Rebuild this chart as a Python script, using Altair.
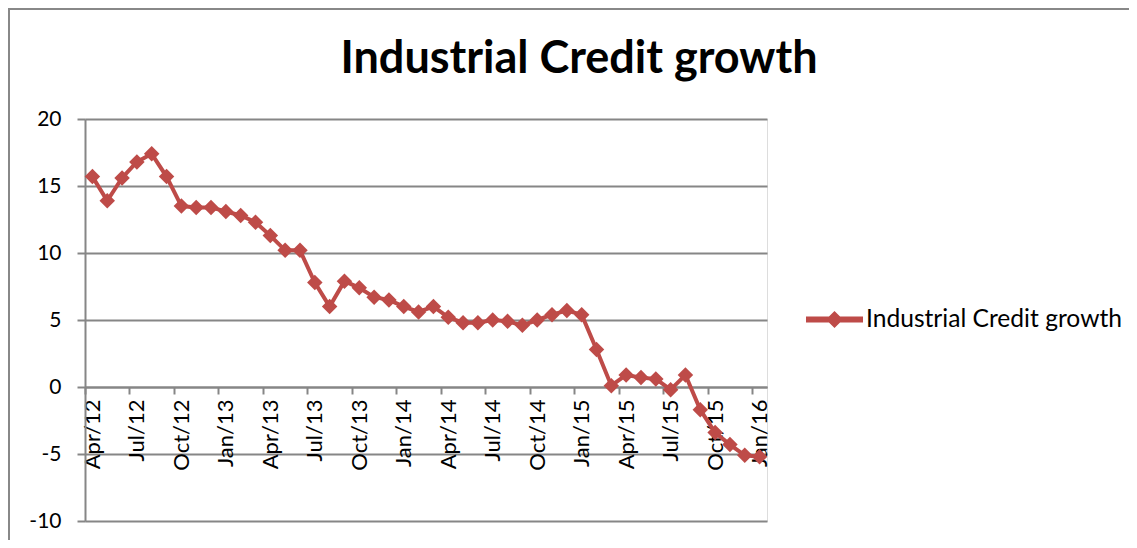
import altair as alt
import pandas as pd

chart_title = "Industrial Credit growth"
series_name = "Industrial Credit growth"

# monthly categories Apr/12 .. Jan/16 (46 months)
months = [
    "Apr/12", "May/12", "Jun/12", "Jul/12", "Aug/12", "Sep/12", "Oct/12", "Nov/12", "Dec/12",
    "Jan/13", "Feb/13", "Mar/13", "Apr/13", "May/13", "Jun/13", "Jul/13", "Aug/13", "Sep/13",
    "Oct/13", "Nov/13", "Dec/13", "Jan/14", "Feb/14", "Mar/14", "Apr/14", "May/14", "Jun/14",
    "Jul/14", "Aug/14", "Sep/14", "Oct/14", "Nov/14", "Dec/14", "Jan/15", "Feb/15", "Mar/15",
    "Apr/15", "May/15", "Jun/15", "Jul/15", "Aug/15", "Sep/15", "Oct/15", "Nov/15", "Dec/15",
    "Jan/16",
]

growth = [
    15.7, 13.9, 15.6, 16.8, 17.4, 15.7, 13.5, 13.4, 13.4, 13.1,
    12.8, 12.3, 11.3, 10.2, 10.2, 7.8, 6.0, 7.9, 7.4, 6.7,
    6.5, 6.0, 5.6, 6.0, 5.2, 4.8, 4.8, 5.0, 4.9, 4.6,
    5.0, 5.4, 5.7, 5.4, 2.8, 0.1, 0.9, 0.7, 0.6, -0.2,
    0.9, -1.7, -3.4, -4.3, -5.1, -5.2,
]

tick_labels = ["Apr/12", "Jul/12", "Oct/12", "Jan/13", "Apr/13", "Jul/13", "Oct/13", "Jan/14",
               "Apr/14", "Jul/14", "Oct/14", "Jan/15", "Apr/15", "Jul/15", "Oct/15", "Jan/16"]
y_ticks = [-10, -5, 0, 5, 10, 15, 20]

df = pd.DataFrame({
    "idx": list(range(len(months))),
    "month": months,
    "growth": growth,
    "series": [series_name] * len(months),
})

RED = "#BE4B48"
GREY = "#868686"
FONT = "Lato"

W, H = 682, 402
half_band = W / len(months) / 2

label_expr = "[" + ",".join(f"'{t}'" for t in tick_labels) + "][round(datum.value / 3)]"

legend_path = ("M-1,-0.105L-0.195,-0.105L0,-0.3L0.195,-0.105L1,-0.105L1,0.105"
               "L0.195,0.105L0,0.3L-0.195,0.105L-1,0.105Z")

x_enc = alt.X(
    "idx:Q",
    scale=alt.Scale(domain=[-0.5, len(months) - 0.5], nice=False, zero=False),
    axis=alt.Axis(
        values=list(range(0, len(months), 3)),
        labelExpr=label_expr,
        labelAngle=270,
        labelAlign="right",
        labelBaseline="middle",
        labelFont=FONT,
        labelFontSize=22,
        labelColor="black",
        labelPadding=5,
        labelOffset=half_band,
        tickOffset=-half_band,
        tickSize=7,
        tickWidth=2,
        tickColor=GREY,
        domainColor=GREY,
        domainWidth=2,
        grid=False,
        offset=-134,
        title=None,
    ),
)

y_enc = alt.Y(
    "growth:Q",
    scale=alt.Scale(domain=[-10, 20], nice=False, zero=False),
    axis=alt.Axis(
        values=y_ticks,
        labelExpr="'' + datum.value",
        grid=True,
        gridColor=GREY,
        gridWidth=2,
        domainColor=GREY,
        domainWidth=2,
        tickColor=GREY,
        tickWidth=2,
        tickSize=8,
        labelFont=FONT,
        labelFontSize=21,
        labelColor="black",
        labelPadding=16,
        title=None,
    ),
)

line = alt.Chart(df).mark_line(
    strokeWidth=4,
    point=alt.OverlayMarkDef(shape="diamond", size=240, filled=True, opacity=1),
).encode(
    x=x_enc,
    y=y_enc,
    color=alt.Color(
        "series:N",
        scale=alt.Scale(domain=[series_name], range=[RED]),
        legend=alt.Legend(
            title=None,
            orient="none",
            legendX=721,
            legendY=172,
            padding=0,
            symbolType=legend_path,
            symbolSize=3249,
            symbolStrokeWidth=0,
            symbolFillColor=RED,
            symbolOpacity=1,
            labelFont=FONT,
            labelFontSize=24.6,
            labelColor="black",
            labelOffset=3,
            labelLimit=400,
        ),
    ),
)

frame_left = alt.Chart(df).mark_rule(color="#888888", strokeWidth=1.5).encode(
    x=alt.value(-76.5), y=alt.value(-110.5), y2=alt.value(440)
)
frame_top = alt.Chart(df).mark_rule(color="#888888", strokeWidth=1.5).encode(
    x=alt.value(-77), x2=alt.value(1060), y=alt.value(-110.5)
)

chart = alt.layer(frame_left, frame_top, line).properties(
    width=W,
    height=H,
    title=alt.TitleParams(
        chart_title,
        font=FONT,
        fontSize=45,
        fontWeight="bold",
        color="black",
        anchor="middle",
        dx=153,
        dy=154,
        offset=44,
        baseline="alphabetic",
    ),
    autosize=alt.AutoSizeParams(type="none"),
    padding={"left": 77, "top": 111, "right": 362, "bottom": 19},
).configure_view(stroke=None).configure(background="white")

chart.save("out.html", embed_options={"renderer": "svg", "actions": False})
